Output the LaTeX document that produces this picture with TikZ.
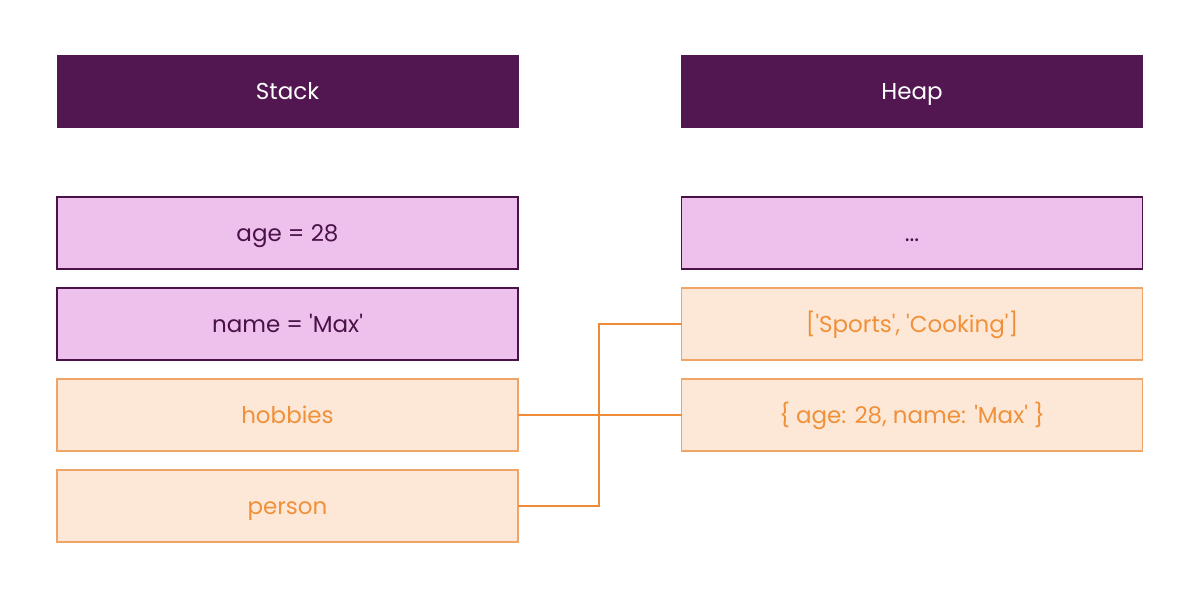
\documentclass[tikz,border=0pt]{standalone}
\usepackage{fontspec}
\setmainfont{Poppins}[Ligatures=TeXOff]
\usepackage{tikz}
\usetikzlibrary{positioning}

\definecolor{plum}{HTML}{521650}
\definecolor{lilac}{HTML}{EDC1EC}
\definecolor{lilacline}{HTML}{4A1248}
\definecolor{peach}{HTML}{FDE8D8}
\definecolor{peachline}{HTML}{F0A466}
\definecolor{peachtext}{HTML}{F0913A}
\definecolor{wire}{HTML}{EF8A36}

\begin{document}
\begin{tikzpicture}[x=1pt,y=1pt]
\tikzstyle{cell}=[rectangle,minimum width=461pt,minimum height=72pt,inner sep=0pt,outer sep=0pt,
  text height=18.5pt,text depth=2.5pt,font=\fontsize{23}{27}\selectfont]
\tikzstyle{title}=[cell,fill=plum,draw=plum,text=white]
\tikzstyle{prim}=[cell,fill=lilac,draw=lilacline,line width=1.2pt,text=lilacline]
\tikzstyle{ref}=[cell,fill=peach,draw=peachline,line width=1.2pt,text=peachtext]
\tikzstyle{link}=[draw=wire,line width=2.6pt]
\useasboundingbox (0,0) rectangle (1200,-598);
% headers
\node [title] (stack) at (287.5,-91.5) {Stack};
\node [title] (heap) at (912,-91.5) {Heap};
% stack cells
\node [prim] (age) at (287.5,-233) {age = 28};
\node [prim, below=19pt of age] (name) {name = 'Max'};
\node [ref, below=19pt of name] (hobbies) {hobbies};
\node [ref, below=19pt of hobbies] (person) {person};
% heap cells
\node [prim] (dots) at (912,-233) {...};
\node [ref, below=19pt of dots] (sports) {['Sports', 'Cooking']};
\node [ref, below=19pt of sports] (obj) {\{ age: 28, name: 'Max' \}};
% pointers
\coordinate (bus) at (599,-324);
\draw [link] (hobbies.east) -- (obj.west);
\draw [link] (person.east) -| (bus) -- (sports.west);
\end{tikzpicture}
\end{document}
